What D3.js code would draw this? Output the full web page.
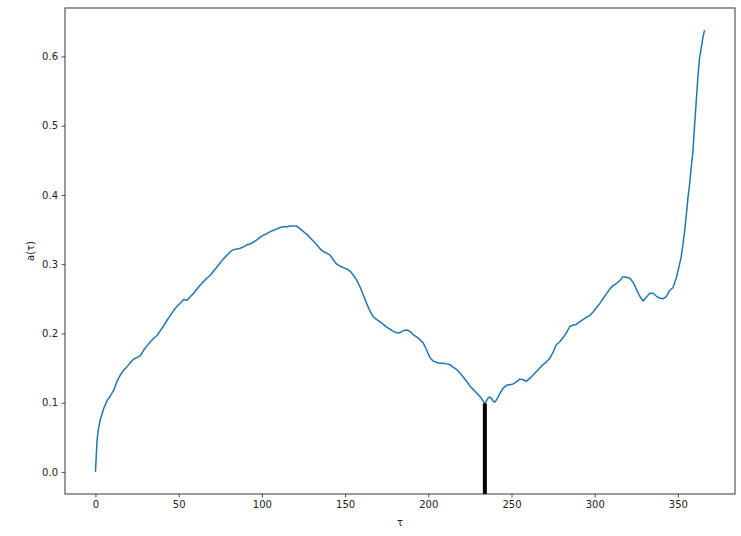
<!DOCTYPE html>
<html>
<head>
<meta charset="utf-8">
<script src="https://cdn.jsdelivr.net/npm/d3@7"></script>
<style>
  html, body { margin: 0; padding: 0; background: #fff; }
  svg { display: block; }
  text { font-family: "DejaVu Sans", sans-serif; fill: #222; }
</style>
</head>
<body>
<svg id="chart" width="741" height="536"></svg>
<script>
// ---- data ----
const tau = [0,1,2,3,5,7,9,11,13,15,17,19,21,23,25,27,29,31,33,35,37,39,41,43,45,47,49,51,53,55,57,59,61,63,65,67,69,71,73,75,77,79,81,83,85,87,89,91,93,95,97,99,101,103,105,107,109,111,113,115,117,119,121,123,125,127,129,131,133,135,137,139,141,143,145,147,149,151,153,155,157,159,161,163,165,167,169,171,173,175,177,179,181,183,185,187,189,191,193,195,197,199,201,203,205,207,209,211,213,215,217,219,221,223,225,227,229,231,233,234,235,236,237,238,239,240,241,243,245,247,249,251,253,255,257,259,261,263,265,267,269,271,273,275,277,279,281,283,285,287,289,291,293,295,297,299,301,303,305,307,309,311,313,315,317,319,321,323,325,327,329,331,333,335,337,339,341,343,345,347,349,351,352,353,354,355,356,357,358,359,360,361,362,363,364,365,366];
const aValues = [0.000,0.047,0.065,0.076,0.092,0.103,0.110,0.118,0.131,0.140,0.147,0.152,0.158,0.163,0.165,0.168,0.176,0.182,0.188,0.193,0.197,0.204,0.211,0.219,0.226,0.233,0.239,0.244,0.249,0.248,0.253,0.258,0.264,0.270,0.275,0.280,0.284,0.290,0.296,0.302,0.308,0.313,0.318,0.321,0.322,0.323,0.325,0.328,0.329,0.332,0.335,0.339,0.342,0.344,0.347,0.349,0.351,0.353,0.354,0.354,0.355,0.355,0.355,0.351,0.347,0.343,0.338,0.333,0.328,0.322,0.318,0.316,0.313,0.306,0.300,0.297,0.295,0.293,0.290,0.284,0.277,0.267,0.255,0.243,0.232,0.224,0.220,0.217,0.213,0.209,0.206,0.203,0.201,0.201,0.204,0.205,0.203,0.198,0.195,0.191,0.186,0.176,0.165,0.160,0.158,0.157,0.157,0.156,0.155,0.151,0.148,0.143,0.137,0.131,0.124,0.119,0.114,0.109,0.102,0.099,0.103,0.107,0.108,0.106,0.102,0.101,0.104,0.113,0.121,0.125,0.126,0.127,0.130,0.134,0.133,0.131,0.135,0.140,0.145,0.150,0.155,0.159,0.164,0.173,0.184,0.188,0.194,0.201,0.210,0.212,0.213,0.217,0.220,0.223,0.226,0.231,0.237,0.243,0.250,0.257,0.264,0.269,0.272,0.276,0.282,0.281,0.280,0.274,0.264,0.254,0.247,0.252,0.258,0.258,0.254,0.251,0.250,0.253,0.262,0.266,0.280,0.300,0.311,0.328,0.347,0.370,0.395,0.415,0.440,0.462,0.500,0.535,0.570,0.598,0.612,0.627,0.638];
const xTicks = [0, 50, 100, 150, 200, 250, 300, 350];
const yTicks = [0.0, 0.1, 0.2, 0.3, 0.4, 0.5, 0.6];
const minTau = 234;
const minValue = 0.099;
const xLabel = "τ";
const yLabel = "a(τ)";

// ---- layout ----
const svg = d3.select("#chart");
const mLeft = 65, mRight = 735, mTop = 8, mBottom = 494;

const xMin = d3.min(tau), xMax = d3.max(tau);
const xPad = (xMax - xMin) * 0.05;
const yMin = d3.min(aValues), yMax = d3.max(aValues);
const yPad = (yMax - yMin) * 0.05;

const x = d3.scaleLinear().domain([xMin - xPad, xMax + xPad]).range([mLeft, mRight]);
const y = d3.scaleLinear().domain([yMin - yPad, yMax + yPad]).range([mBottom, mTop]);

const data = tau.map((t, i) => ({ t, v: aValues[i] }));

svg.append("clipPath").attr("id", "clip")
  .append("rect").attr("x", mLeft).attr("y", mTop).attr("width", mRight - mLeft).attr("height", mBottom - mTop);

const plot = svg.append("g").attr("clip-path", "url(#clip)");

plot.append("path")
  .datum(data)
  .attr("fill", "none")
  .attr("stroke", "#1f77b4")
  .attr("stroke-width", 1.5)
  .attr("stroke-linejoin", "round")
  .attr("d", d3.line().x(d => x(d.t)).y(d => y(d.v)).curve(d3.curveLinear));

// vertical marker at minimum
plot.append("line")
  .attr("x1", x(minTau)).attr("x2", x(minTau))
  .attr("y1", y(yMin - yPad)).attr("y2", y(minValue))
  .attr("stroke", "#000")
  .attr("stroke-width", 4);

// axes
const xAxis = svg.append("g").attr("transform", `translate(0,${mBottom})`)
  .call(d3.axisBottom(x).tickValues(xTicks).tickFormat(d3.format("d")).tickSize(3.5).tickPadding(3.5));
const yAxis = svg.append("g").attr("transform", `translate(${mLeft},0)`)
  .call(d3.axisLeft(y).tickValues(yTicks).tickFormat(d3.format(".1f")).tickSize(3.5).tickPadding(3.5));

[xAxis, yAxis].forEach(a => {
  a.select(".domain").remove();
  a.selectAll(".tick line").attr("stroke", "#222").attr("stroke-width", 0.8);
  a.selectAll(".tick text").attr("font-size", 10).attr("font-family", "DejaVu Sans, sans-serif").attr("fill", "#222");
});

// frame
svg.append("rect")
  .attr("x", mLeft).attr("y", mTop).attr("width", mRight - mLeft).attr("height", mBottom - mTop)
  .attr("fill", "none").attr("stroke", "#222").attr("stroke-width", 0.9);

// labels
svg.append("text")
  .attr("x", (mLeft + mRight) / 2).attr("y", 526)
  .attr("text-anchor", "middle").attr("font-size", 10)
  .text(xLabel);

svg.append("text")
  .attr("transform", `translate(34,${(mTop + mBottom) / 2}) rotate(-90)`)
  .attr("text-anchor", "middle").attr("font-size", 10)
  .text(yLabel);
</script>
</body>
</html>
